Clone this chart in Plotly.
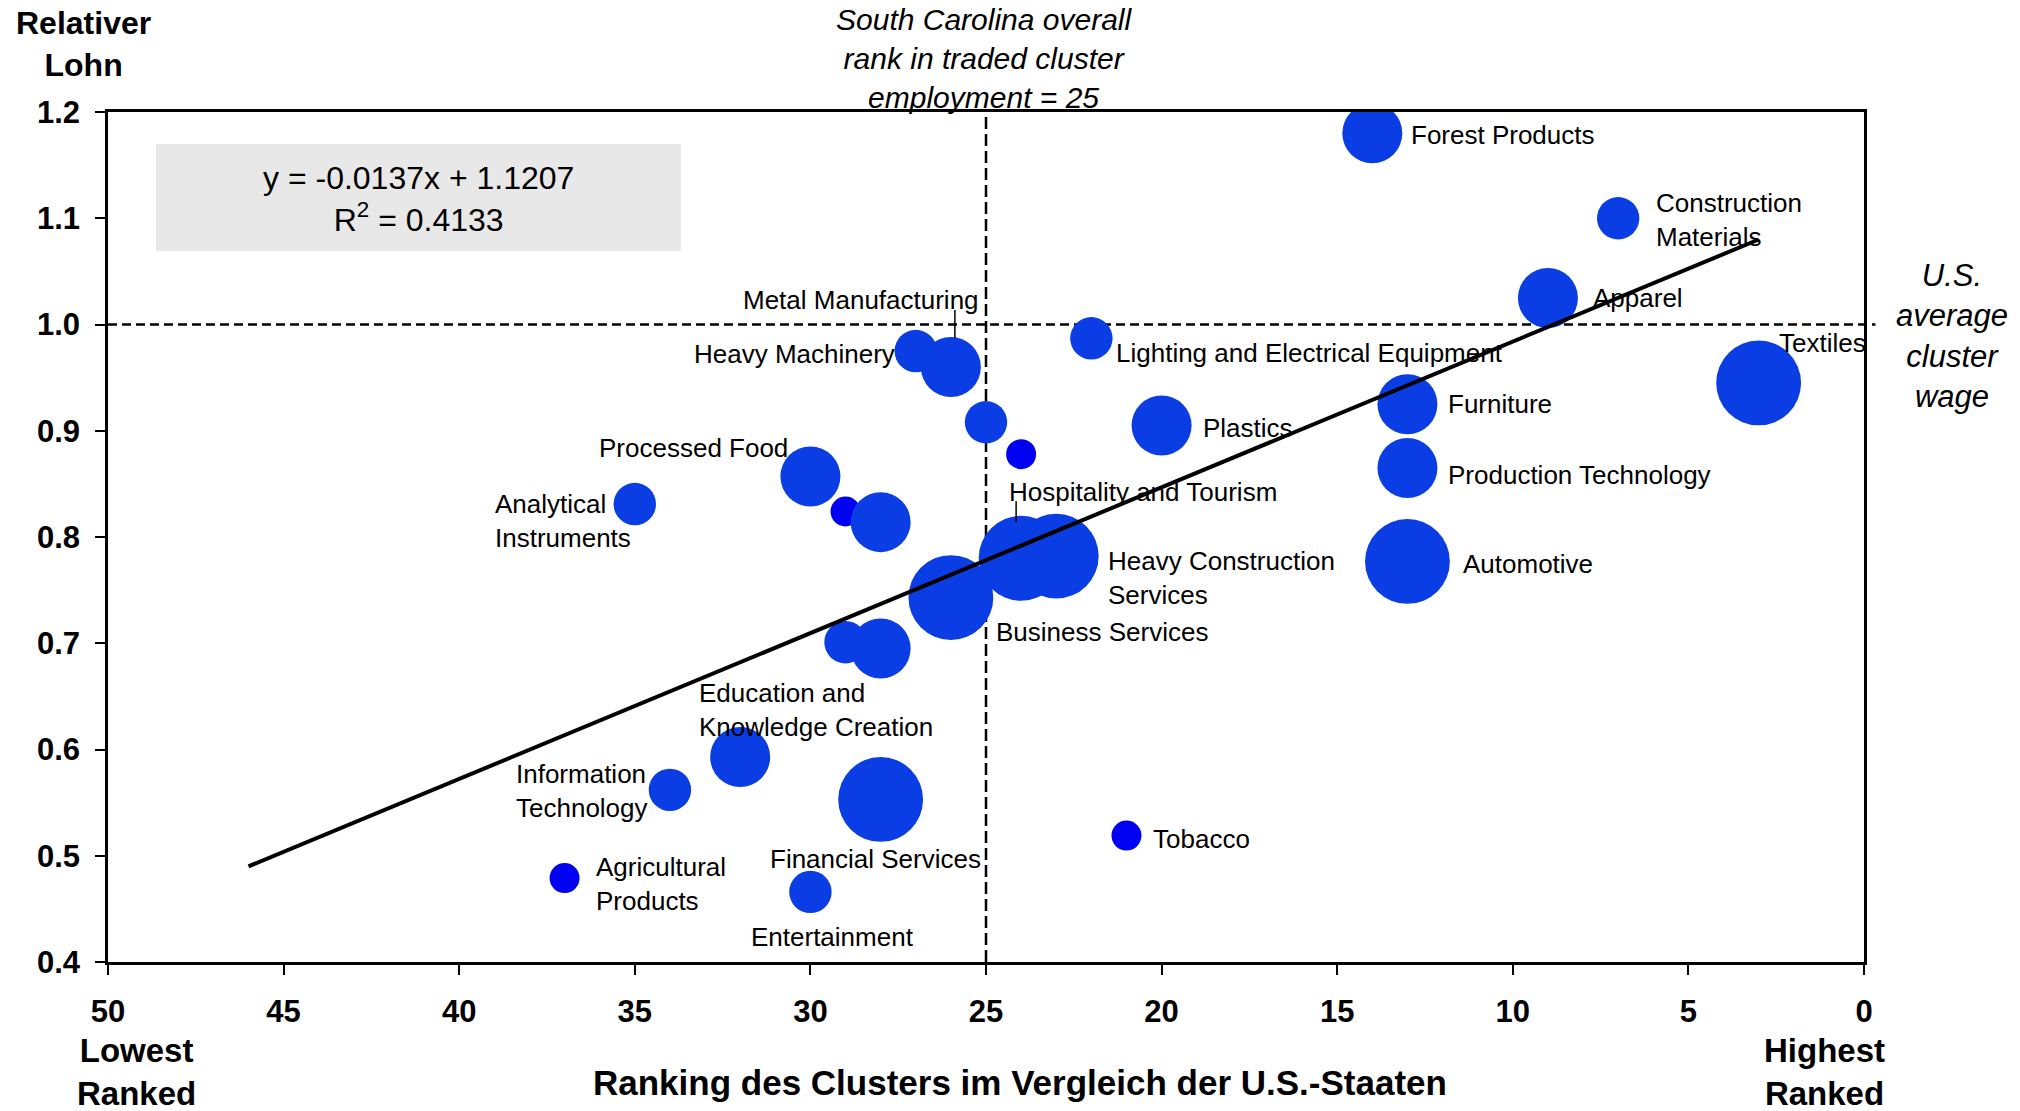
import plotly.graph_objects as go

# --- Daten ---
# Rang 50 = schlechtester Staat, Rang 1 = bester Staat
clusters = [
    "Forest Products", "Construction Materials", "Apparel", "Textiles",
    "Lighting and Electrical Equipment", "Furniture", "Production Technology",
    "Automotive", "Plastics", "Tobacco", "", "",
    "Heavy Machinery", "Metal Manufacturing", "Processed Food", "", "",
    "Analytical Instruments", "Hospitality and Tourism",
    "Heavy Construction Services", "Business Services", "", "",
    "Education and Knowledge Creation", "Information Technology",
    "Financial Services", "Agricultural Products", "Entertainment",
]
rank = [14, 7, 9, 3, 22, 13, 13, 13, 20, 21, 24, 25,
        27, 26, 30, 29, 28, 35, 24, 23, 26, 29, 28,
        32, 34, 28, 37, 30]
wage = [1.180, 1.100, 1.025, 0.945, 0.987, 0.925, 0.865, 0.777, 0.905, 0.519, 0.878, 0.908,
        0.975, 0.960, 0.857, 0.824, 0.814, 0.831, 0.780, 0.782, 0.743, 0.701, 0.695,
        0.593, 0.562, 0.553, 0.479, 0.466]
# relative Beschaeftigung (Blasenflaeche)
employment = [4, 2, 4, 8, 2, 4, 4, 8, 4, 1, 1, 2,
              2, 4, 4, 1, 4, 2, 8, 8, 8, 2, 4,
              4, 2, 8, 1, 2]

# Trendlinie (Endpunkte)
trend_rank = [46, 3]
trend_wage = [0.49, 1.08]

x_ticks = [50, 45, 40, 35, 30, 25, 20, 15, 10, 5, 0]
y_ticks = [0.4, 0.5, 0.6, 0.7, 0.8, 0.9, 1.0, 1.1, 1.2]

sc_rank = 25       # Gesamtrang South Carolina
us_average = 1.0   # US-Durchschnittslohn

# --- Layout-Konstanten ---
W, H = 2020, 1111
ML, MR, MT, MB = 108, 156, 112, 149
PW, PH = W - ML - MR, H - MT - MB
PX_X = PW / 50.0     # Pixel pro Rang
PX_Y = PH / 0.8      # Pixel pro Lohneinheit

FONT = "Arial, Liberation Sans, sans-serif"
BLUE = "#0A3DE3"
SMALL_BLUE = "#0000F2"

# Beschriftungen: Text, dx, dy (Pixel relativ zum Blasenmittelpunkt), Ausrichtung
label_layout = {
    "Forest Products": ("Forest Products", 38, 2, "left"),
    "Construction Materials": ("Construction<br>Materials", 37, 2, "left"),
    "Apparel": ("Apparel", 44, 0, "left"),
    "Textiles": ("Textiles", 108, -40, "right"),
    "Lighting and Electrical Equipment": ("Lighting and Electrical Equipment", 24, 15, "left"),
    "Furniture": ("Furniture", 40, 0, "left"),
    "Production Technology": ("Production Technology", 40, 7, "left"),
    "Automotive": ("Automotive", 55, 3, "left"),
    "Plastics": ("Plastics", 40, 3, "left"),
    "Tobacco": ("Tobacco", 26, 3, "left"),
    "Heavy Machinery": ("Heavy Machinery", -20, 3, "right"),
    "Metal Manufacturing": ("Metal Manufacturing", 29, -67, "right"),
    "Processed Food": ("Processed Food", -21, -28, "right"),
    "Analytical Instruments": ("Analytical<br>Instruments", -3, 17, "right"),
    "Hospitality and Tourism": ("Hospitality and Tourism", -13, -66, "left"),
    "Heavy Construction Services": ("Heavy Construction<br>Services", 51, 22, "left"),
    "Business Services": ("Business Services", 44, 34, "left"),
    "Education and Knowledge Creation": ("Education and<br>Knowledge Creation", -42, -47, "left"),
    "Information Technology": ("Information<br>Technology", -21, 1, "right"),
    "Financial Services": ("Financial Services", -5, 60, "center"),
    "Agricultural Products": ("Agricultural<br>Products", 30, 6, "left"),
    "Entertainment": ("Entertainment", 22, 45, "center"),
}
# Hinweislinien: dx, dy0, dy1
leaders = {
    "Metal Manufacturing": (4, -57, -29),
    "Hospitality and Tourism": (-5, -57, -36),
}


def paper_x(px):
    return (px - ML) / PW


def paper_y(py):
    return (H - MB - py) / PH


def text_note(px, py, text, size, style="normal"):
    # freie Texte, immer mittig verankert
    fig.add_annotation(xref="paper", yref="paper", x=paper_x(px), y=paper_y(py),
                       text=text, showarrow=False, align="center",
                       xanchor="center", yanchor="middle",
                       font=dict(family=FONT, size=size, color="black", style=style))


colors = [SMALL_BLUE if e == 1 else BLUE for e in employment]

fig = go.Figure()

fig.add_trace(go.Scatter(
    x=rank, y=wage, mode="markers",
    text=clusters,
    marker=dict(size=employment, sizemode="area", sizeref=1 / (2 * 15.0 ** 2),
                color=colors, line=dict(width=0), opacity=1),
    hovertemplate="%{text}<br>Rang %{x}<br>Lohn %{y:.2f}<extra></extra>",
    showlegend=False,
))

fig.add_trace(go.Scatter(
    x=trend_rank, y=trend_wage, mode="lines",
    line=dict(color="black", width=4),
    hoverinfo="skip", showlegend=False,
))

# Referenzlinien
fig.add_shape(type="line", xref="paper", yref="y", x0=0, x1=1.0065,
              y0=us_average, y1=us_average, layer="below",
              line=dict(color="black", width=2.5, dash="9px,5px"))
fig.add_shape(type="line", xref="x", yref="paper", x0=sc_rank, x1=sc_rank,
              y0=0, y1=1, layer="below",
              line=dict(color="black", width=2.5, dash="12px,5px"))

# Gleichungsbox
fig.add_shape(type="rect", xref="paper", yref="paper",
              x0=paper_x(156), x1=paper_x(681), y0=paper_y(251), y1=paper_y(144),
              fillcolor="#E8E8E8", line=dict(width=0), layer="below")
text_note(418, 199, "y = -0.0137x + 1.1207<br>R<sup>2</sup> = 0.4133", 32)

# Cluster-Beschriftungen
for name, r, w in zip(clusters, rank, wage):
    if name not in label_layout:
        continue
    txt, dx, dy, anchor = label_layout[name]
    fig.add_annotation(x=r, y=w, xref="x", yref="y", text=txt, showarrow=False,
                       xanchor=anchor, yanchor="middle", align="left",
                       xshift=dx, yshift=-dy, borderpad=0,
                       font=dict(family=FONT, size=26, color="black"))
    if name in leaders:
        lx, ly0, ly1 = leaders[name]
        fig.add_shape(type="line", xref="x", yref="y",
                      x0=r - lx / PX_X, x1=r - lx / PX_X,
                      y0=w - ly0 / PX_Y, y1=w - ly1 / PX_Y,
                      line=dict(color="black", width=1.5))

# Texte ausserhalb der Zeichenflaeche
text_note(984, 58, "South Carolina overall<br>rank in traded cluster<br>employment = 25", 30, "italic")
text_note(1952, 336, "U.S.<br>average<br>cluster<br>wage", 31, "italic")
text_note(83, 44, "<b>Relativer<br>Lohn</b>", 32)
text_note(1020, 1082, "<b>Ranking des Clusters im Vergleich der U.S.-Staaten</b>", 35)
text_note(136, 1072, "<b>Lowest<br>Ranked</b>", 33)
text_note(1824, 1072, "<b>Highest<br>Ranked</b>", 33)

axis_common = dict(
    showgrid=False, zeroline=False, showline=True, linecolor="black",
    linewidth=2.5, mirror=True, ticks="outside", tickcolor="black",
    tickwidth=2, ticklen=10,
    tickfont=dict(family=FONT, size=31, color="black", weight="bold"),
)

fig.update_layout(
    width=W, height=H,
    margin=dict(l=ML, r=MR, t=MT, b=MB),
    paper_bgcolor="white", plot_bgcolor="white",
    xaxis=dict(range=[50, 0], tickvals=x_ticks, ticklabelstandoff=10, **axis_common),
    yaxis=dict(range=[0.4, 1.2], tickvals=y_ticks, tickformat=".1f",
               ticklabelstandoff=9, **axis_common),
    font=dict(family=FONT, color="black"),
)

# Seitenrand entfernen, damit die Grafik bei (0, 0) beginnt
fig.write_html("out.html", config={"displayModeBar": False},
               post_script="document.body.style.margin = '0';")
